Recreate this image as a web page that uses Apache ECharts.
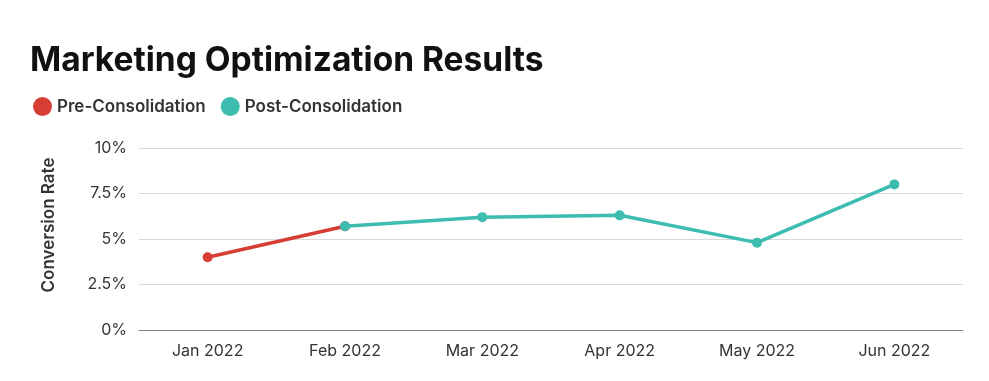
<!DOCTYPE html>
<html><head><meta charset="utf-8">
<script src="https://cdn.jsdelivr.net/npm/echarts@6/dist/echarts.min.js"></script>
<style>html,body{margin:0;padding:0;background:#fff}#c{width:989px;height:381px}</style>
</head><body><div id="c"></div>
<script>
const categories = ['Jan 2022','Feb 2022','Mar 2022','Apr 2022','May 2022','Jun 2022'];
const preValues = [4.0, 5.7, null, null, null, null];
const postValues = [null, 5.7, 6.2, 6.3, 4.8, 8.0];
const yTicks = [0, 2.5, 5, 7.5, 10];
const yAxisTitle = 'Conversion Rate';
const chart = echarts.init(document.getElementById('c'));
const F = 'Inter, Lato, "Noto Sans", sans-serif';
chart.setOption({
  animation: false,
  backgroundColor: '#fff',
  title: {text: 'Marketing Optimization Results', left: 25, top: 39,
    textStyle: {fontFamily: F, fontSize: 33.5, fontWeight: 'bold', color: '#111'}},
  legend: {left: 28, top: 92, icon: 'circle', itemWidth: 19, itemHeight: 19, itemGap: 15,
    textStyle: {fontFamily: F, fontSize: 17, fontWeight: 600, color: '#333'},
    data: ['Pre-Consolidation','Post-Consolidation']},
  grid: {left: 139, right: 26, top: 148, bottom: 51},
  graphic: [{type: 'text', x: 49, y: 225, rotation: Math.PI / 2,
    style: {text: yAxisTitle, fontFamily: F, fontSize: 17, fontWeight: 600, fill: '#333',
      align: 'center', verticalAlign: 'middle'}}],
  xAxis: {type: 'category', data: categories, boundaryGap: true,
    axisLine: {lineStyle: {color: '#888', width: 1}}, axisTick: {show: false},
    axisLabel: {fontFamily: F, fontSize: 16, color: '#333', margin: 13}},
  yAxis: {type: 'value', min: 0, max: 10, interval: 2.5,
    axisLine: {show: false}, axisTick: {show: false},
    splitLine: {lineStyle: {color: '#d9d9d9', width: 1}},
    axisLabel: {fontFamily: F, fontSize: 16, color: '#333', margin: 12,
      formatter: v => yTicks.includes(v) ? v + '%' : ''}},
  series: [
    {name: 'Pre-Consolidation', type: 'line', data: preValues, color: '#d63e35',
      lineStyle: {width: 3.5}, symbol: 'circle', symbolSize: 10, showSymbol: true, z: 2},
    {name: 'Post-Consolidation', type: 'line', data: postValues, color: '#3dbcb0',
      lineStyle: {width: 3.5}, symbol: 'circle', symbolSize: 10, showSymbol: true, z: 3}
  ]
});
</script></body></html>
